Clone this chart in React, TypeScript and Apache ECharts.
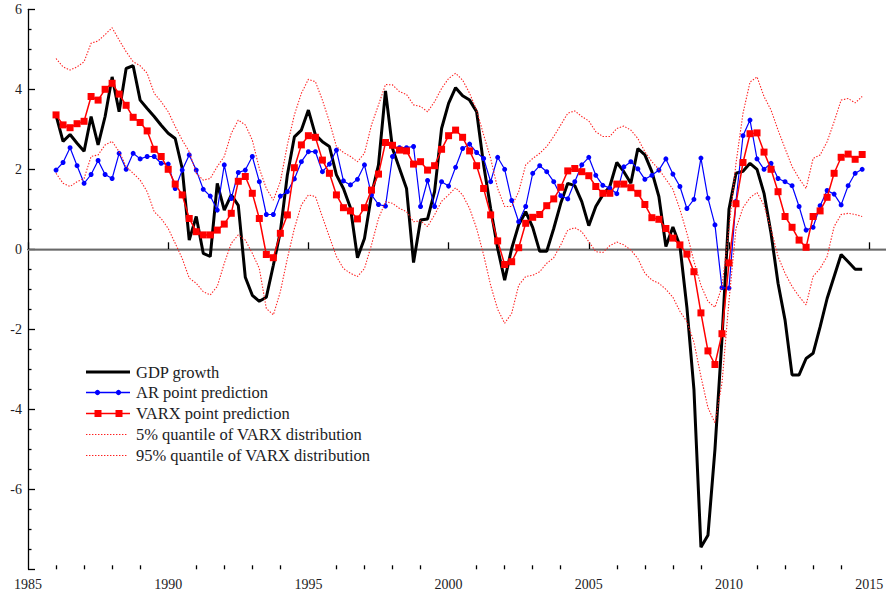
import React, { useEffect, useRef } from "react";
import * as echarts from "echarts";

// Quarterly observations, 1986Q1 .. 2014Q4
const firstYear = 1986;

const gdpGrowth: number[] = [
  3.35, 2.7, 2.87, 2.65, 2.45, 3.32, 2.61, 3.32, 4.31, 3.44,
  4.52, 4.59, 3.73, 3.52, 3.32, 3.1, 2.9, 2.77, 2.02, 0.23,
  0.82, -0.1, -0.18, 1.65, 0.98, 1.36, 1.1, -0.7, -1.15, -1.3,
  -1.2, -0.4, 0.44, 1.86, 2.81, 2.98, 3.48, 2.86, 2.69, 2.57,
  1.86, 1.52, 1.04, -0.21, 0.27, 1.36, 2.11, 3.96, 2.52, 2.02,
  1.52, -0.33, 0.73, 0.76, 1.44, 3.02, 3.65, 4.04, 3.84, 3.73,
  3.44, 2.11, 1.02, 0.02, -0.77, 0.02, 0.61, 0.94, 0.55, -0.05,
  -0.05, 0.52, 1.15, 1.65, 1.59, 1.19, 0.59, 1.07, 1.36, 1.57,
  2.17, 1.94, 1.65, 2.52, 2.36, 1.94, 1.32, 0.07, 0.56, 0.09,
  -1.46, -3.5, -7.45, -7.15, -5.0, -2.24, 1.0, 1.9, 1.95, 2.15,
  2.0, 1.4, 0.4, -0.85, -1.77, -3.14, -3.14, -2.73, -2.6, -1.94,
  -1.23, -0.68, -0.13, -0.31, -0.5, -0.5,
];

const arPrediction: number[] = [
  1.98, 2.17, 2.54, 2.09, 1.65, 1.87, 2.22, 1.87, 1.77, 2.4,
  2.0, 2.4, 2.26, 2.32, 2.32, 2.15, 2.13, 1.52, 1.98, 2.36,
  1.98, 1.5, 1.33, 0.98, 2.11, 1.27, 1.92, 1.98, 2.32, 1.69,
  0.87, 0.87, 1.33, 1.44, 1.76, 2.19, 2.44, 2.44, 1.94, 2.13,
  2.48, 1.71, 1.61, 1.75, 2.11, 1.36, 1.12, 1.08, 2.32, 2.54,
  2.54, 2.57, 1.07, 1.72, 1.07, 1.69, 1.58, 2.05, 2.52, 2.63,
  2.42, 2.27, 1.69, 2.3, 2.0, 1.22, 0.69, 1.07, 1.9, 2.09,
  1.94, 1.69, 1.34, 1.26, 1.69, 2.11, 2.3, 1.85, 1.6, 1.53,
  1.39, 2.06, 2.19, 2.01, 1.75, 1.85, 1.98, 2.26, 1.88, 1.57,
  1.02, 1.25, 2.28, 1.28, 0.61, -0.96, -0.97, 1.2, 2.84, 3.23,
  2.26, 2.0, 2.15, 1.77, 1.69, 1.59, 1.07, 0.48, 0.55, 1.09,
  1.47, 1.38, 1.11, 1.59, 1.9, 2.0,
];

const varxPrediction: number[] = [
  3.36, 3.11, 3.04, 3.14, 3.2, 3.82, 3.73, 4.0, 4.15, 3.88,
  3.6, 3.3, 3.17, 2.96, 2.5, 2.32, 2.0, 1.63, 1.36, 0.77,
  0.44, 0.36, 0.36, 0.48, 0.63, 0.9, 1.7, 1.82, 1.4, 0.77,
  -0.13, -0.21, 0.4, 0.86, 2.04, 2.61, 2.84, 2.8, 2.23, 1.9,
  1.36, 1.04, 0.96, 0.76, 1.04, 1.48, 1.88, 2.67, 2.6, 2.48,
  2.46, 2.13, 2.19, 1.98, 2.09, 2.5, 2.84, 2.98, 2.8, 2.46,
  2.09, 1.52, 0.86, 0.21, -0.38, -0.31, 0.04, 0.65, 0.8, 0.87,
  1.09, 1.26, 1.55, 1.96, 2.02, 1.94, 1.84, 1.57, 1.4, 1.4,
  1.63, 1.63, 1.54, 1.4, 1.12, 0.79, 0.75, 0.52, 0.28, 0.11,
  -0.12, -0.56, -1.59, -2.54, -2.88, -2.11, -0.34, 1.14, 2.17, 2.89,
  2.91, 2.43, 2.0, 1.44, 0.82, 0.55, 0.23, 0.05, 0.82, 0.96,
  1.3, 1.9, 2.3, 2.38, 2.25, 2.37,
];

const varxQuantile05: number[] = [
  1.9, 1.65, 1.57, 1.69, 1.77, 2.32, 2.36, 2.61, 2.7, 2.44,
  2.07, 1.9, 1.73, 1.44, 0.94, 0.77, 0.52, 0.15, -0.23, -0.72,
  -0.85, -1.06, -1.14, -0.93, -0.35, 0.15, 0.36, 0.23, -0.1, -0.48,
  -1.48, -1.64, -1.06, -0.23, 0.52, 1.11, 1.36, 1.32, 0.81, 0.31,
  -0.18, -0.48, -0.6, -0.68, -0.48, 0.11, 0.77, 1.19, 1.15, 1.02,
  0.94, 0.69, 0.71, 0.57, 0.86, 1.2, 1.36, 1.54, 1.36, 1.02,
  0.52, -0.14, -0.9, -1.5, -1.85, -1.6, -0.9, -0.68, -0.65, -0.56,
  -0.35, -0.21, 0.11, 0.48, 0.54, 0.44, 0.19, -0.06, -0.08, 0.09,
  0.18, 0.11, -0.02, -0.23, -0.6, -0.77, -0.85, -1.0, -1.2, -1.55,
  -1.81, -2.32, -3.18, -3.96, -4.34, -3.35, -1.29, 0.52, 1.04, 1.29,
  1.42, 1.1, 0.5, -0.18, -0.6, -0.93, -1.18, -1.39, -0.68, -0.48,
  -0.18, 0.57, 0.87, 0.9, 0.87, 0.82,
];

const varxQuantile95: number[] = [
  4.77, 4.56, 4.48, 4.56, 4.69, 5.15, 5.21, 5.37, 5.54, 5.23,
  4.94, 4.69, 4.59, 4.4, 3.9, 3.69, 3.44, 3.07, 2.73, 2.44,
  1.9, 1.73, 1.77, 2.07, 2.32, 2.9, 3.23, 3.11, 2.73, 2.02,
  1.52, 1.23, 1.69, 2.61, 3.36, 3.9, 4.25, 4.19, 3.73, 3.19,
  2.57, 2.42, 2.32, 2.19, 2.4, 3.11, 3.61, 4.12, 4.11, 3.94,
  3.87, 3.61, 3.57, 3.44, 3.69, 4.02, 4.27, 4.4, 4.23, 3.9,
  3.48, 2.86, 2.27, 1.52, 1.07, 1.07, 1.44, 2.11, 2.27, 2.4,
  2.57, 2.82, 3.11, 3.4, 3.46, 3.32, 3.21, 2.94, 2.82, 2.82,
  3.02, 3.08, 2.98, 2.77, 2.44, 2.19, 2.0, 1.75, 1.5, 1.0,
  0.4, -0.3, -0.9, -1.3, -1.45, -0.94, 0.52, 2.15, 3.4, 4.18,
  4.31, 3.82, 3.48, 2.98, 2.52, 2.07, 1.77, 1.52, 2.27, 2.36,
  2.69, 3.19, 3.73, 3.77, 3.66, 3.82,
];

// Axis ticks
const xMajorTicks: number[] = [1985, 1990, 1995, 2000, 2005, 2010, 2015];
const xMinorTicks: number[] = [
  1986, 1987, 1988, 1989, 1991, 1992, 1993, 1994, 1996, 1997, 1998, 1999,
  2001, 2002, 2003, 2004, 2006, 2007, 2008, 2009, 2011, 2012, 2013, 2014,
];
const yMin = -8;
const yMax = 6;
const yStep = 2;

const legendLabels: string[] = [
  "GDP growth",
  "AR point prediction",
  "VARX point prediction",
  "5% quantile of VARX distribution",
  "95% quantile of VARX distribution",
];

const SERIF = "'Liberation Serif', 'DejaVu Serif', serif";
const INK = "#1c1c24";
const QUANT_DASH = [1.4, 1.6];

const toPairs = (vals: number[]) =>
  vals.map((v, i) => [firstYear + i / 4, v]);

function legendGraphics() {
  const x1 = 86;
  const x2 = 130;
  const tx = 136;
  const rows = [372, 392.5, 413.5, 434.5, 455.5];
  const els: any[] = [];
  // GDP growth
  els.push({
    type: "line",
    shape: { x1, y1: rows[0], x2, y2: rows[0] },
    style: { stroke: "#000", lineWidth: 3 },
  });
  // AR
  els.push({
    type: "line",
    shape: { x1, y1: rows[1], x2, y2: rows[1] },
    style: { stroke: "#0000ff", lineWidth: 1.3 },
  });
  [97.5, 118.5].forEach((cx) =>
    els.push({
      type: "circle",
      shape: { cx, cy: rows[1], r: 2.6 },
      style: { fill: "#0000ff" },
    })
  );
  // VARX
  els.push({
    type: "line",
    shape: { x1, y1: rows[2], x2, y2: rows[2] },
    style: { stroke: "#ff0000", lineWidth: 1.6 },
  });
  [98, 119].forEach((cx) =>
    els.push({
      type: "rect",
      shape: { x: cx - 3.5, y: rows[2] - 3.5, width: 7, height: 7 },
      style: { fill: "#ff0000" },
    })
  );
  // quantiles
  [rows[3], rows[4]].forEach((y) =>
    els.push({
      type: "line",
      shape: { x1, y1: y, x2: 127, y2: y },
      style: { stroke: "#ff2020", lineWidth: 1.1, lineDash: QUANT_DASH },
    })
  );
  legendLabels.forEach((label, i) =>
    els.push({
      type: "text",
      x: tx,
      y: rows[i],
      style: {
        text: label,
        fontFamily: SERIF,
        fontSize: 16.5,
        fill: INK,
        verticalAlign: "middle",
        align: "left",
      },
    })
  );
  return els;
}

export default function App() {
  const ref = useRef<HTMLDivElement>(null);

  useEffect(() => {
    if (!ref.current) return;
    const chart = echarts.init(ref.current, undefined, { renderer: "svg" });

    const axisLabelStyle = {
      fontFamily: SERIF,
      fontSize: 14,
      color: INK,
    };

    chart.setOption({
      animation: false,
      backgroundColor: "#ffffff",
      grid: {
        left: 28,
        top: 9.3,
        width: 858,
        height: 560,
        containLabel: false,
        outerBoundsMode: "none",
      },
      xAxis: [
        {
          type: "value",
          min: 1985,
          max: 2015.6,
          interval: 5,
          axisLine: { show: true, lineStyle: { color: "#000", width: 1.3 } },
          axisTick: {
            show: true,
            inside: true,
            length: 7,
            lineStyle: { color: "#000", width: 1.3 },
            customValues: xMajorTicks,
          },
          axisLabel: {
            ...axisLabelStyle,
            margin: 8,
            customValues: xMajorTicks,
            formatter: (v: number) => String(v),
          },
          splitLine: { show: false },
        },
        {
          type: "value",
          min: 1985,
          max: 2015.6,
          position: "bottom",
          axisLine: { show: false },
          axisTick: {
            show: true,
            inside: true,
            length: 4,
            lineStyle: { color: "#000", width: 1.3 },
            customValues: xMinorTicks,
          },
          axisLabel: { show: false },
          splitLine: { show: false },
        },
      ],
      yAxis: {
        type: "value",
        min: yMin,
        max: yMax,
        interval: yStep,
        axisLine: { show: true, lineStyle: { color: "#000", width: 1.3 } },
        axisTick: {
          show: true,
          inside: true,
          length: 7,
          lineStyle: { color: "#000", width: 1.3 },
        },
        minorTick: {
          show: true,
          splitNumber: 4,
          length: 3.5,
          lineStyle: { color: "#000", width: 1.3 },
        },
        axisLabel: {
          ...axisLabelStyle,
          margin: 6,
          formatter: (v: number) => (v === yMin ? "" : String(v)),
        },
        splitLine: { show: false },
        minorSplitLine: { show: false },
      },
      graphic: legendGraphics(),
      series: [
        {
          name: "GDP growth",
          type: "line",
          data: toPairs(gdpGrowth),
          showSymbol: false,
          symbol: "none",
          lineStyle: { color: "#000", width: 3 },
          z: 3,
          markLine: {
            silent: true,
            symbol: "none",
            label: { show: false },
            lineStyle: { color: "#8c8c8c", width: 1.5, type: "solid" },
            data: [{ yAxis: 0 }],
            z: 1,
          },
        },
        {
          name: "AR point prediction",
          type: "line",
          data: toPairs(arPrediction),
          symbol: "circle",
          symbolSize: 5,
          itemStyle: { color: "#0000ff" },
          lineStyle: { color: "#0000ff", width: 1.2 },
          z: 4,
        },
        {
          name: "VARX point prediction",
          type: "line",
          data: toPairs(varxPrediction),
          symbol: "rect",
          symbolSize: 7,
          itemStyle: { color: "#ff0000" },
          lineStyle: { color: "#ff0000", width: 1.5 },
          z: 5,
        },
        {
          name: "5% quantile of VARX distribution",
          type: "line",
          data: toPairs(varxQuantile05),
          symbol: "none",
          lineStyle: { color: "#ff2020", width: 1.1, type: QUANT_DASH },
          z: 6,
        },
        {
          name: "95% quantile of VARX distribution",
          type: "line",
          data: toPairs(varxQuantile95),
          symbol: "none",
          lineStyle: { color: "#ff2020", width: 1.1, type: QUANT_DASH },
          z: 6,
        },
      ],
    });

    return () => chart.dispose();
  }, []);

  return (
    <div
      ref={ref}
      style={{
        position: "fixed",
        left: 0,
        top: 0,
        width: 886,
        height: 593,
        background: "#fff",
      }}
    />
  );
}
